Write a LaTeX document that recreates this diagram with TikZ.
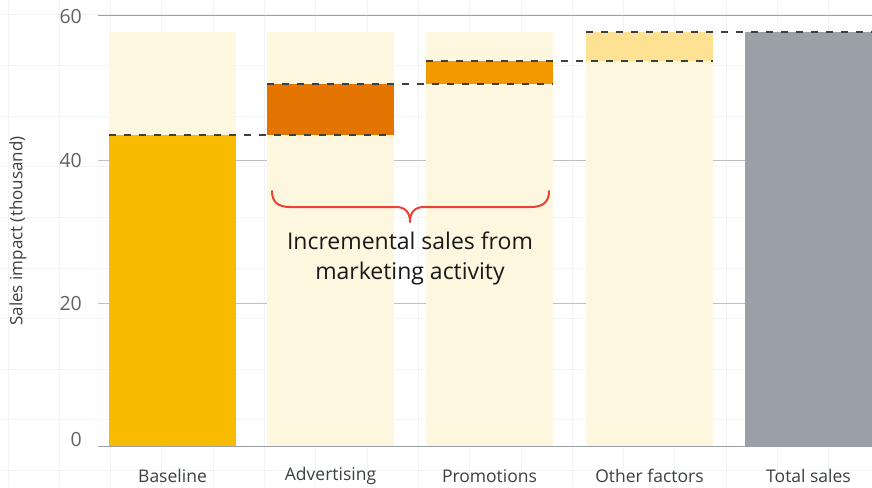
\documentclass[tikz,border=0pt]{standalone}
\usepackage{fontspec}
\setmainfont{Open Sans}
\definecolor{bgbar}{HTML}{FEF7E0}
\definecolor{cbase}{HTML}{F9BB00}
\definecolor{cadv}{HTML}{E37400}
\definecolor{cpromo}{HTML}{F29900}
\definecolor{cother}{HTML}{FDE293}
\definecolor{ctotal}{HTML}{9AA0A6}
\definecolor{dashc}{HTML}{3C4043}
\definecolor{gridc}{HTML}{F1F3F4}
\definecolor{axisc}{HTML}{9AA0A6}
\definecolor{hlinec}{HTML}{BDC1C6}
\definecolor{tickc}{HTML}{5F6368}
\definecolor{bracec}{HTML}{EA4335}
\begin{document}
\begin{tikzpicture}[x=1pt,y=-1pt,
  bar/.style={inner sep=0pt, outer sep=0pt, minimum width=127pt, anchor=south west, draw=none},
  dashline/.style={draw=dashc, line width=2.6pt, dash pattern=on 7pt off 8pt},
  ticklab/.style={text=tickc, font=\fontsize{19.5}{22}\selectfont, anchor=east, inner sep=0pt},
  xlab/.style={text=dashc, font=\fontsize{17.5}{20}\selectfont, inner sep=0pt},
  bgline/.style={draw=gridc, line width=1pt}]
\useasboundingbox (0,0) rectangle (872,487);
\fill[white] (0,0) rectangle (872,487);
% background grid
\foreach \i in {0,...,16} {\draw[bgline] (8+51.3*\i,0) -- (8+51.3*\i,487);}
\foreach \j in {0,...,9} {\draw[bgline] (0,15+50.6*\j) -- (872,15+50.6*\j);}
% gridlines
\draw[hlinec, line width=1pt] (98,303) -- (872,303);
\draw[hlinec, line width=1pt] (98,160) -- (872,160);
\draw[axisc, line width=1pt] (98,16) -- (872,16);
% background bars
\foreach \x in {109,267,426,586} {\fill[bgbar] (\x,32) rectangle (\x+127,446);}
% bars
\node[bar, fill=cbase, minimum height=311pt] (base) at (109,446) {};
\node[bar, fill=cadv, minimum height=51pt] (adv) at (267,135) {};
\node[bar, fill=cpromo, minimum height=23pt] (promo) at (426,84) {};
\node[bar, fill=cother, minimum height=29pt] (other) at (586,61) {};
\node[bar, fill=ctotal, minimum height=414pt] (total) at (745,446) {};
% axis
\draw[axisc, line width=1pt] (98,446) -- (872,446);
% dashed connectors
\draw[dashline] (base.north west) -- (adv.south east);
\draw[dashline] (adv.north west) -- (promo.south east);
\draw[dashline] (promo.north west) -- (other.south east);
\draw[dashline] (other.north west) -- (total.north east);
% tick labels
\node[ticklab] (t60) at (82,17) {60};
\node[ticklab] (t40) at (82,161) {40};
\node[ticklab] (t20) at (82,304) {20};
\node[ticklab] (t0) at (82,440) {0};
\node[text=dashc, rotate=90, font=\fontsize{17}{20}\selectfont, inner sep=0pt] (ytitle) at (18,231) {Sales impact (thousand)};
% x labels
\node[xlab] (lb) at (base.south |- 0,476) {Baseline};
\node[xlab] (la) at (adv.south |- 0,476) {Advertising};
\node[xlab] (lp) at (promo.south |- 0,476) {Promotions};
\node[xlab] (lo) at (other.south |- 0,476) {Other factors};
\node[xlab] (lt) at (total.south |- 0,476) {Total sales};
% brace
\draw[bracec, line width=2pt, line cap=round, line join=round]
  (272,191) .. controls (272,202) and (278,207) .. (290,207)
  -- (396,207) .. controls (405,207) and (410,212) .. (410,222)
  .. controls (410,212) and (415,207) .. (424,207)
  -- (531,207) .. controls (543,207) and (549,202) .. (549,191);
\node[text=black!90, font=\fontsize{23}{30}\selectfont, align=center, inner sep=0pt] (note) at (410,258) {Incremental sales from\\marketing activity};
\end{tikzpicture}
\end{document}
